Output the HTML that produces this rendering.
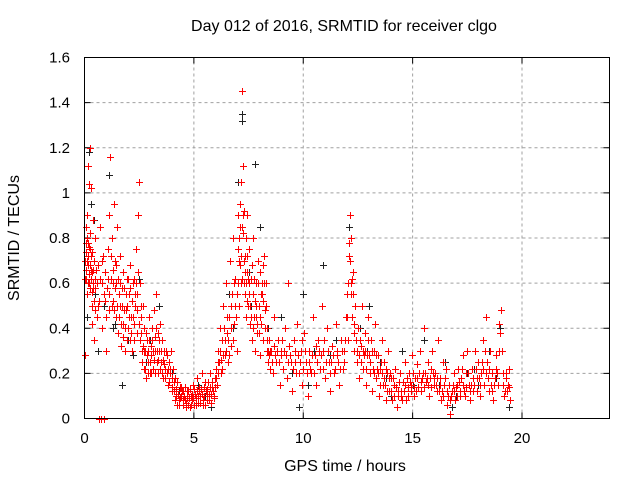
<!DOCTYPE html>
<html><head><meta charset="utf-8"><style>
body{margin:0;background:#fff}
svg{display:block;font-family:"Liberation Sans",sans-serif}
</style></head><body>
<svg id="chart" width="640" height="480" viewBox="0 0 640 480">
<text x="344" y="31" font-size="16" text-anchor="middle">Day 012 of 2016, SRMTID for receiver clgo</text>
<text transform="translate(19,238) rotate(-90)" font-size="16" text-anchor="middle">SRMTID / TECUs</text>
<text x="345" y="471" font-size="16" text-anchor="middle">GPS time / hours</text>
<g id="grid"></g>
<g id="ticks"></g>
<g id="black" stroke="#222" stroke-width="1"></g>
<g id="red" stroke="#f00" stroke-width="1"></g>
<rect x="84.5" y="57.5" width="525" height="361" fill="none" stroke="#000"/>
</svg>
<script>
const xTicks=[0,5,10,15,20];
const yTicks=[0,0.2,0.4,0.6,0.8,1,1.2,1.4,1.6];
const yTickLabels=["0","0.2","0.4","0.6","0.8","1","1.2","1.4","1.6"];
const redPts=[[0.02,0.28],[0.04,0.7],[0.06,0.85],[0.08,0.62],[0.1,0.9],[0.12,0.55],[0.14,0.78],[0.16,1.12],[0.18,0.68],[0.2,1.04],[0.22,0.6],[0.24,1.2],[0.26,0.82],[0.28,1.02],[0.3,0.72],[0.32,0.5],[0.34,0.65],[0.36,0.42],[0.38,0.88],[0.4,0.58],[0.42,0.35],[0.44,0.7],[0.46,0.48],[0.48,0.62],[0.5,0.8],
[0.55,0.45],[0.6,0.68],[0.65,0],[0.68,0.52],[0.72,0.85],[0.75,0],[0.78,0.6],[0.82,0.4],[0.85,0.72],[0.88,0.55],[0.9,0],[0.95,0.65],[0.98,0.3],
[1.02,0.58],[1.06,0.75],[1.1,0.48],[1.14,0.9],[1.18,1.16],[1.22,0.62],[1.26,0.8],[1.3,0.52],[1.34,0.95],[1.38,0.7],[1.42,0.45],[1.46,0.6],[1.5,0.85],[1.54,0.38],[1.58,0.55],[1.62,0.72],[1.66,0.32],[1.7,0.5],[1.74,0.65],[1.78,0.42],[1.82,0.58],[1.86,0.3],[1.9,0.48],[1.94,0.62],[1.98,0.4],
[2.02,0.55],[2.06,0.35],[2.1,0.68],[2.14,0.45],[2.18,0.3],[2.22,0.6],[2.26,0.42],[2.3,0.5],[2.34,0.75],[2.38,0.38],[2.42,0.55],[2.46,0.9],[2.5,1.05],[2.54,0.6],[2.58,0.45],
[2.62,0.3],[2.66,0.5],[2.7,0.22],[2.74,0.4],[2.78,0.3],[2.82,0.18],[2.86,0.35],[2.9,0.25],[2.94,0.45],[2.98,0.2],[3.02,0.32],[3.06,0.28],[3.1,0.4],[3.14,0.22],[3.18,0.48],[3.22,0.3],[3.26,0.55],[3.3,0.25],[3.34,0.38],[3.38,0.2],[3.42,0.3],[3.46,0.42],
[3.5,0.25],[3.55,0.35],[3.6,0.18],[3.65,0.3],[3.7,0.22],[3.75,0.28],[3.8,0.15],[3.85,0.25],[3.9,0.2],[3.95,0.3],[4.0,0.14],[4.05,0.22],[4.1,0.12],[4.15,0.18],[4.2,0.1],[4.25,0.16],[4.3,0.08],[4.35,0.14],[4.4,0.1],[4.45,0.12],
[4.5,0.06],[4.55,0.1],[4.6,0.14],[4.65,0.07],[4.7,0.09],[4.75,0.12],[4.8,0.05],[4.85,0.1],[4.9,0.08],[4.95,0.15],[5.0,0.06],[5.05,0.11],[5.1,0.09],[5.15,0.18],[5.2,0.07],[5.25,0.12],[5.3,0.1],[5.35,0.2],[5.4,0.08],[5.45,0.14],[5.5,0.06],[5.55,0.12],[5.6,0.1],[5.65,0.16],[5.7,0.08],[5.75,0.2],[5.8,0.11],[5.85,0.14],[5.9,0.09],[5.95,0.18],
[6.0,0.22],[6.05,0.15],[6.1,0.3],[6.15,0.25],[6.2,0.4],[6.25,0.2],[6.3,0.35],[6.35,0.5],[6.4,0.28],[6.45,0.6],[6.5,0.38],[6.55,0.25],[6.6,0.45],[6.65,0.7],[6.7,0.32],[6.75,0.55],[6.8,0.8],[6.85,0.42],[6.9,0.62],[6.95,0.3],
[7.0,0.75],[7.03,0.9],[7.06,0.5],[7.09,0.95],[7.12,0.68],[7.15,1.05],[7.18,0.85],[7.21,1.45],[7.24,1.12],[7.27,0.7],[7.3,0.92],[7.33,0.55],[7.36,0.8],[7.39,0.45],[7.42,0.65],[7.45,0.9],[7.48,0.5],
[7.52,0.75],[7.56,0.42],[7.6,0.62],[7.64,0.35],[7.68,0.55],[7.72,0.8],[7.76,0.45],[7.8,0.3],[7.84,0.6],[7.88,0.38],[7.92,0.7],[7.96,0.5],[8.0,0.28],[8.04,0.65],[8.08,0.42],[8.12,0.55],[8.16,0.35],[8.2,0.72],[8.24,0.48],[8.28,0.6],[8.32,0.3],[8.36,0.4],[8.4,0.25],[8.44,0.35],[8.48,0.22],
[8.52,0.3],[8.6,0.2],[8.68,0.45],[8.76,0.25],[8.84,0.35],[8.92,0.15],[9.0,0.3],[9.08,0.22],[9.16,0.4],[9.24,0.18],[9.32,0.6],[9.4,0.28],[9.48,0.12],[9.56,0.35],[9.64,0.25],[9.72,0.42],[9.8,0.2],[9.88,0.3],[9.96,0.15],[10.04,0.38],[10.12,0.25],[10.2,0.1],[10.28,0.3],[10.36,0.2],[10.44,0.45],[10.52,0.28],[10.6,0.15],[10.68,0.35],[10.76,0.22],[10.84,0.5],[10.92,0.3],[11.0,0.18],[11.08,0.4],[11.16,0.25],[11.24,0.12],[11.32,0.32],[11.4,0.2],[11.48,0.42],[11.56,0.28],[11.64,0.15],[11.72,0.35],[11.8,0.22],[11.88,0.3],[11.96,0.45],
[12.0,0.55],[12.04,0.35],[12.08,0.72],[12.12,0.9],[12.16,0.6],[12.2,0.8],[12.24,0.45],[12.28,0.65],[12.32,0.3],[12.36,0.5],
[12.44,0.25],[12.5,0.4],[12.56,0.18],[12.62,0.32],[12.68,0.5],[12.74,0.22],[12.8,0.38],[12.86,0.15],[12.92,0.28],[12.98,0.45],[13.04,0.2],[13.1,0.35],[13.16,0.12],[13.22,0.3],[13.28,0.42],[13.34,0.18],[13.4,0.28],[13.46,0.1],[13.52,0.22],[13.58,0.35],[13.64,0.15],[13.7,0.25],[13.76,0.08],[13.82,0.2],[13.88,0.3],[13.94,0.12],
[14.0,0.18],[14.07,0.08],[14.14,0.15],[14.21,0.22],[14.28,0.05],[14.35,0.12],[14.42,0.2],[14.49,0.1],[14.56,0.16],[14.63,0.25],[14.7,0.08],[14.77,0.14],[14.84,0.2],[14.91,0.12],[14.98,0.28],[15.05,0.1],[15.12,0.18],[15.19,0.24],[15.26,0.14],[15.33,0.3],[15.4,0.12],[15.47,0.2],[15.54,0.4],[15.61,0.16],[15.68,0.25],[15.75,0.1],[15.82,0.22],[15.89,0.3],[15.96,0.15],
[16.03,0.2],[16.1,0.12],[16.17,0.35],[16.24,0.18],[16.31,0.08],[16.38,0.25],[16.45,0.15],[16.52,0.22],[16.59,0.06],[16.66,0.15],[16.73,0.02],[16.8,0.12],[16.87,0.2],[16.94,0.08],
[17.01,0.15],[17.08,0.22],[17.15,0.1],[17.22,0.18],[17.29,0.28],[17.36,0.12],[17.43,0.2],[17.5,0.3],[17.57,0.15],[17.64,0.08],[17.71,0.22],[17.78,0.12],[17.85,0.3],[17.92,0.18],[17.99,0.25],[18.06,0.1],[18.13,0.2],[18.2,0.35],[18.27,0.15],[18.34,0.45],[18.41,0.25],[18.48,0.12],[18.55,0.3],[18.62,0.2],[18.69,0.08],[18.76,0.18],[18.83,0.28],[18.9,0.15],[18.97,0.42],[19.04,0.48],[19.11,0.2],[19.18,0.1],[19.25,0.18],[19.32,0.12],[19.39,0.22],[19.45,0.08]];
const redPts2=[[0.03,0.62],[0.05,0.78],[0.07,0.74],[0.09,0.66],[0.11,0.8],[0.13,0.7],[0.15,0.6],[0.17,0.72],[0.19,0.64],[0.21,0.76],[0.23,0.68],[0.25,0.58],[0.27,0.75],[0.29,0.66],[0.31,0.62],[0.33,0.74],[0.35,0.56],[0.37,0.66],[0.39,0.6],[0.43,0.52],[0.47,0.58],[0.52,0.66],[0.57,0.6],[0.62,0.5],[0.7,0.62],[0.8,0.7],[0.92,0.52],[1.0,0.45],[1.08,0.62],[1.12,0.55],[1.2,0.72],[1.24,0.5],[1.28,0.66],[1.32,0.6],[1.36,0.48],[1.4,0.58],[1.44,0.68],[1.48,0.5],[1.52,0.62],[1.56,0.45],[1.6,0.6],[1.64,0.5],[1.68,0.42],[1.72,0.58],[1.76,0.36],[1.8,0.48],[1.84,0.4],[1.88,0.55],[1.92,0.35],[1.96,0.5],[2.0,0.62],[2.04,0.45],[2.08,0.58],[2.12,0.38],[2.16,0.52],[2.2,0.45],[2.24,0.35],[2.28,0.62],[2.32,0.55],[2.36,0.6],[2.4,0.48],[2.44,0.65],[2.48,0.42],[2.52,0.35],[2.56,0.5],
[2.6,0.38],[2.64,0.25],[2.68,0.32],[2.72,0.3],[2.76,0.22],[2.8,0.38],[2.84,0.28],[2.88,0.2],[2.92,0.3],[2.96,0.35],[3.0,0.25],[3.04,0.2],[3.08,0.35],[3.12,0.3],[3.16,0.26],[3.2,0.2],[3.24,0.36],[3.28,0.4],[3.32,0.3],[3.36,0.26],[3.4,0.35],[3.44,0.22],[3.48,0.3],[3.52,0.2],[3.58,0.26],[3.62,0.24],[3.68,0.18],[3.72,0.3],[3.78,0.2],[3.82,0.22],[3.88,0.16],[3.92,0.22],[3.98,0.18],[4.02,0.12],[4.08,0.16],[4.12,0.08],[4.18,0.13],[4.22,0.06],[4.28,0.11],[4.32,0.06],[4.38,0.09],[4.42,0.14],[4.48,0.08],[4.52,0.12],[4.58,0.08],[4.62,0.05],[4.68,0.12],[4.72,0.06],[4.78,0.09],[4.82,0.13],[4.88,0.06],[4.92,0.11],[4.98,0.09],[5.02,0.13],[5.08,0.06],[5.12,0.12],[5.18,0.1],[5.22,0.14],[5.28,0.07],[5.32,0.13],[5.38,0.11],[5.42,0.06],[5.48,0.1],[5.52,0.16],[5.58,0.08],[5.62,0.13],[5.68,0.11],[5.72,0.14],[5.78,0.07],[5.82,0.16],[5.88,0.12],[5.92,0.1],[5.98,0.14],
[6.02,0.18],[6.08,0.25],[6.12,0.2],[6.18,0.3],[6.22,0.26],[6.28,0.22],[6.32,0.28],[6.38,0.4],[6.42,0.35],[6.48,0.3],[6.52,0.45],[6.58,0.35],[6.62,0.28],[6.68,0.5],[6.72,0.4],[6.78,0.35],[6.82,0.6],[6.88,0.5],[6.92,0.45],[6.98,0.55],[7.02,0.6],[7.05,0.7],[7.08,0.8],[7.11,0.85],[7.14,0.6],[7.17,0.72],[7.2,0.62],[7.23,0.9],[7.26,0.82],[7.29,0.6],[7.32,0.72],[7.35,0.65],[7.38,0.6],[7.41,0.52],[7.44,0.72],[7.47,0.62],[7.5,0.55],[7.54,0.6],[7.58,0.5],[7.62,0.45],[7.66,0.68],[7.7,0.4],[7.74,0.62],[7.78,0.52],[7.82,0.45],[7.86,0.5],[7.9,0.42],[7.94,0.6],[7.98,0.38],[8.02,0.45],[8.06,0.55],[8.1,0.6],[8.14,0.68],[8.18,0.52],[8.22,0.6],[8.26,0.4],[8.3,0.5],[8.34,0.35],[8.38,0.3],[8.42,0.28],[8.46,0.3],
[8.56,0.25],[8.64,0.32],[8.72,0.28],[8.8,0.3],[8.88,0.25],[8.96,0.28],[9.04,0.35],[9.12,0.3],[9.2,0.28],[9.28,0.25],[9.36,0.32],[9.44,0.25],[9.52,0.22],[9.6,0.3],[9.68,0.2],[9.76,0.28],[9.84,0.25],[9.92,0.35],[10.0,0.22],[10.08,0.3],[10.16,0.2],[10.24,0.25],[10.32,0.22],[10.4,0.28],[10.48,0.2],[10.56,0.32],[10.64,0.25],[10.72,0.3],[10.8,0.28],[10.88,0.22],[10.96,0.35],[11.04,0.25],[11.12,0.3],[11.2,0.2],[11.28,0.25],[11.36,0.28],[11.44,0.22],[11.52,0.3],[11.6,0.25],[11.68,0.22],[11.76,0.3],[11.84,0.25],[11.92,0.35],
[12.02,0.45],[12.06,0.6],[12.1,0.78],[12.14,0.7],[12.18,0.55],[12.22,0.62],[12.26,0.55],[12.3,0.42],[12.34,0.38],[12.4,0.35],[12.47,0.3],[12.53,0.28],[12.59,0.35],[12.65,0.25],[12.71,0.3],[12.77,0.28],[12.83,0.3],[12.89,0.22],[12.95,0.35],[13.01,0.28],[13.07,0.25],[13.13,0.3],[13.19,0.22],[13.25,0.2],[13.31,0.28],[13.37,0.22],[13.43,0.2],[13.49,0.15],[13.55,0.25],[13.61,0.2],[13.67,0.18],[13.73,0.15],[13.79,0.22],[13.85,0.12],[13.91,0.18],[13.97,0.2],
[14.03,0.12],[14.1,0.18],[14.17,0.1],[14.24,0.14],[14.31,0.1],[14.38,0.16],[14.45,0.12],[14.52,0.08],[14.59,0.12],[14.66,0.15],[14.73,0.18],[14.8,0.1],[14.87,0.16],[14.94,0.15],[15.01,0.2],[15.08,0.14],[15.15,0.12],[15.22,0.18],[15.29,0.2],[15.36,0.16],[15.43,0.18],[15.5,0.14],[15.57,0.2],[15.64,0.18],[15.71,0.15],[15.78,0.18],[15.85,0.14],[15.92,0.2],[15.99,0.18],[16.06,0.15],[16.13,0.18],[16.2,0.12],[16.27,0.15],[16.34,0.12],[16.41,0.1],[16.48,0.18],[16.55,0.12],[16.62,0.1],[16.69,0.08],[16.76,0.1],[16.83,0.15],[16.9,0.12],[16.97,0.14],[17.04,0.1],[17.11,0.16],[17.18,0.12],[17.25,0.22],[17.32,0.15],[17.39,0.1],[17.46,0.14],[17.53,0.2],[17.6,0.12],[17.67,0.15],[17.74,0.18],[17.81,0.15],[17.88,0.22],[17.95,0.12],[18.02,0.18],[18.09,0.15],[18.16,0.25],[18.23,0.22],[18.3,0.3],[18.37,0.2],[18.44,0.18],[18.51,0.22],[18.58,0.15],[18.65,0.12],[18.72,0.15],[18.79,0.22],[18.86,0.2],[18.93,0.3],[19.0,0.38],[19.07,0.3],[19.14,0.15],[19.21,0.12],[19.28,0.2],[19.35,0.15],[19.42,0.14]];
const blackPts=[[0.1,0.45],[0.22,1.18],[0.3,0.95],[0.45,0.88],[0.6,0.3],[0.9,0.5],[1.1,1.08],[1.4,0.42],[1.7,0.15],[2.2,0.28],[2.5,0.62],[3.0,0.35],[3.4,0.5],[4.0,0.2],[4.6,0.08],[5.2,0.15],[5.8,0.05],[6.2,0.3],[6.6,0.55],[7.0,1.05],[7.2,1.35],[7.22,1.32],[7.5,0.65],[7.8,1.13],[8.0,0.85],[8.4,0.4],[9.0,0.45],[9.5,0.2],[10.0,0.55],[10.5,0.3],[10.9,0.68],[11.5,0.35],[12.1,0.85],[12.6,0.4],[13.0,0.5],[13.5,0.25],[14.0,0.1],[14.5,0.3],[15.0,0.15],[15.5,0.35],[16.0,0.2],[16.5,0.25],[17.0,0.1],[17.5,0.2],[18.0,0.15],[18.5,0.3],[19.0,0.4],[19.4,0.05],[4.3,0.12],[5.5,0.1],[14.8,0.1],[16.8,0.05],[9.8,0.05],[10.2,0.15],[0.5,0.55],[1.3,0.4],[2.0,0.35],[2.8,0.25],[3.7,0.18],[6.8,0.4],[7.6,0.5],[8.8,0.3],[9.3,0.25],[11.2,0.28],[12.9,0.3],[13.8,0.18],[15.3,0.2],[16.2,0.15],[17.8,0.22],[18.8,0.18]];

const NS="http://www.w3.org/2000/svg";
const X0=84.5,X1=609.5,Y0=418.5,Y1=57.5;
function sx(t){return X0+(t/24)*(X1-X0);}
function sy(v){return Y0-(v/1.6)*(Y0-Y1);}
function mk(tag,attrs,parent){const e=document.createElementNS(NS,tag);for(const k in attrs)e.setAttribute(k,attrs[k]);parent.appendChild(e);return e;}
const grid=document.getElementById('grid'),ticks=document.getElementById('ticks');
xTicks.forEach((t,i)=>{
  const x=sx(t);
  if(i>0){const g=mk('line',{x1:x,x2:x,y1:Y0,y2:Y1,stroke:'#a0a0a0','stroke-dasharray':'3,3'},grid);
  
  }
  mk('line',{x1:x,x2:x,y1:Y0,y2:Y0-6,stroke:'#000'},ticks);
  mk('line',{x1:x,x2:x,y1:Y1,y2:Y1+6,stroke:'#000'},ticks);
  const l=mk('text',{x:x,y:443,'font-size':15,'text-anchor':'middle'},ticks);
  l.textContent=t;
  
  
});
yTicks.forEach((v,i)=>{
  const y=sy(v);
  if(i>0&&i<yTicks.length-1){const g=mk('line',{x1:X0,x2:X1,y1:y,y2:y,stroke:'#a0a0a0','stroke-dasharray':'3,3'},grid);
  
  }
  mk('line',{x1:X0,x2:X0+6,y1:y,y2:y,stroke:'#000'},ticks);
  mk('line',{x1:X1,x2:X1-6,y1:y,y2:y,stroke:'#000'},ticks);
  const l=mk('text',{x:70,y:y+5,'font-size':15,'text-anchor':'end'},ticks);
  l.textContent=yTickLabels[i];
  
  
});
function plot(pts,gid){
  const g=document.getElementById(gid);
  pts.forEach(p=>{
    const x=Math.round(sx(p[0]))+0.5,y=Math.round(sy(p[1]))+0.5;
    const e=mk('path',{d:`M${x-3.5},${y}h7M${x},${y-3.5}v7`},g);
    
    
  });
}
plot(blackPts,'black');
plot(redPts,'red');
plot(redPts2,'red');
</script>
</body></html>
